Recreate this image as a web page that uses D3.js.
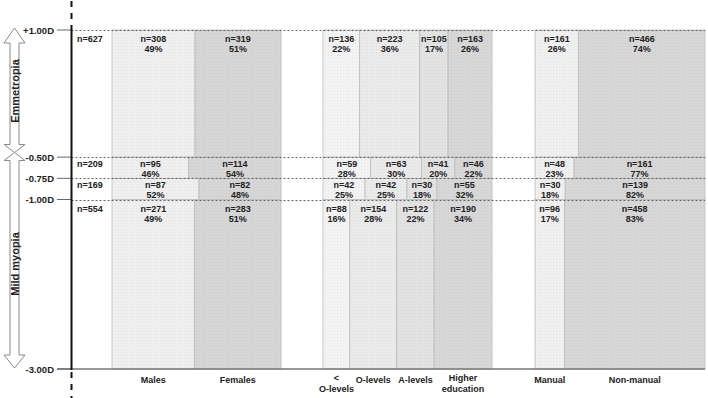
<!DOCTYPE html>
<html>
<head>
<meta charset="utf-8">
<script src="https://cdn.jsdelivr.net/npm/d3@7"></script>
<style>
  body { margin: 0; background: #fff; }
  text { font-family: "Liberation Sans", Arial, sans-serif; font-weight: bold; fill: #222; }
</style>
</head>
<body>
<div id="chart"></div>
<script>
// refraction bands (dioptres) and their tick labels
var refr = [1, -0.5, -0.75, -1, -3];
var refrLabels = ['+1.00D', '-0.50D', '-0.75D', '-1.00D', '-3.00D'];
var totalN = [627, 209, 169, 554];

// sex
var malesN = [308, 95, 87, 271],    malesPct = [49, 46, 52, 49];
var femalesN = [319, 114, 82, 283], femalesPct = [51, 54, 48, 51];

// education
var lessON = [136, 59, 42, 88],     lessOPct = [22, 28, 25, 16];
var oLevN = [223, 63, 42, 154],     oLevPct = [36, 30, 25, 28];
var aLevN = [105, 41, 30, 122],     aLevPct = [17, 20, 18, 22];
var higherN = [163, 46, 55, 190],   higherPct = [26, 22, 32, 34];

// occupation
var manualN = [161, 48, 30, 96],    manualPct = [26, 23, 18, 17];
var nonManN = [466, 161, 139, 458], nonManPct = [74, 77, 82, 83];

var width = 708, height = 398;
var svg = d3.select('#chart').append('svg')
  .attr('width', width).attr('height', height);

var axisX = 71.5, rightX = 705;
var y = d3.scaleLinear().domain([1, -3]).range([30, 369]);

// fills with a fine dotted texture
var fills = {
  males: '#efefef', females: '#d6d6d6',
  lessO: '#f3f3f3', oLev: '#eaeaea', aLev: '#e2e2e2', higher: '#d7d7d7',
  manual: '#f0f0f0', nonMan: '#d7d7d7'
};
var defs = svg.append('defs');
Object.keys(fills).forEach(function(k) {
  var p = defs.append('pattern').attr('id', 'pat-' + k)
    .attr('patternUnits', 'userSpaceOnUse').attr('width', 3).attr('height', 3);
  p.append('rect').attr('width', 3).attr('height', 3).attr('fill', fills[k]);
  p.append('rect').attr('x', 1).attr('y', 1).attr('width', 1).attr('height', 1)
    .attr('fill', d3.color(fills[k]).darker(0.15));
});

var groups = [
  {x0: 112, x1: 281, cats: [
    {key: 'males', label: ['Males'], n: malesN, pct: malesPct},
    {key: 'females', label: ['Females'], n: femalesN, pct: femalesPct}]},
  {x0: 323, x1: 492, cats: [
    {key: 'lessO', label: ['<', 'O-levels'], n: lessON, pct: lessOPct},
    {key: 'oLev', label: ['O-levels'], n: oLevN, pct: oLevPct},
    {key: 'aLev', label: ['A-levels'], n: aLevN, pct: aLevPct},
    {key: 'higher', label: ['Higher', 'education'], n: higherN, pct: higherPct}]},
  {x0: 535, x1: 705, cats: [
    {key: 'manual', label: ['Manual'], n: manualN, pct: manualPct},
    {key: 'nonMan', label: ['Non-manual'], n: nonManN, pct: nonManPct}]}
];

var cells = svg.append('g');
var labels = svg.append('g');

totalN.forEach(function(t, i) {
  var top = y(refr[i]), bot = y(refr[i + 1]);
  var pad = (bot - top) > 30 ? 12 : 9.5;

  labels.append('text')
    .attr('x', 77).attr('y', top + pad)
    .style('font-size', '9px')
    .text('n=' + t);

  groups.forEach(function(g) {
    var sum = d3.sum(g.cats, function(c) { return c.n[i]; });
    var x = d3.scaleLinear().domain([0, sum]).range([g.x0, g.x1]);
    var acc = 0;
    g.cats.forEach(function(c) {
      var a = x(acc), b = x(acc + c.n[i]);
      acc += c.n[i];
      cells.append('rect')
        .attr('x', a).attr('y', top)
        .attr('width', b - a).attr('height', bot - top)
        .attr('fill', 'url(#pat-' + c.key + ')')
        .attr('stroke', '#bcbcbc').attr('stroke-width', 0.8);
      var cx = (a + b) / 2;
      labels.append('text').attr('x', cx).attr('y', top + pad)
        .attr('text-anchor', 'middle').style('font-size', '9px')
        .text('n=' + c.n[i]);
      labels.append('text').attr('x', cx).attr('y', top + pad + 10)
        .attr('text-anchor', 'middle').style('font-size', '9px')
        .text(c.pct[i] + '%');
      // category labels under the bottom band
      if (i === totalN.length - 1) {
        var ly = c.label.length > 1 ? 381 : 383;
        c.label.forEach(function(s, j) {
          labels.append('text').attr('x', cx).attr('y', ly + j * 10.5)
            .attr('text-anchor', 'middle').style('font-size', '9px')
            .text(s);
        });
      }
    });
  });
});

// dotted band boundaries
svg.append('g').selectAll('line')
  .data(refr.slice(0, 4))
  .enter().append('line')
    .attr('x1', axisX).attr('x2', rightX)
    .attr('y1', function(d) { return Math.round(y(d)) + 0.5; })
    .attr('y2', function(d) { return Math.round(y(d)) + 0.5; })
    .attr('stroke', '#555').attr('stroke-width', 0.9)
    .attr('stroke-dasharray', '2,2');

// bottom axis line
svg.append('line')
  .attr('x1', 57).attr('x2', rightX)
  .attr('y1', y(-3)).attr('y2', y(-3))
  .attr('stroke', '#777').attr('stroke-width', 1.5);

// ticks and labels on the left
var ticks = svg.append('g');
refr.forEach(function(d, i) {
  ticks.append('line')
    .attr('x1', 57).attr('x2', axisX)
    .attr('y1', y(d)).attr('y2', y(d))
    .attr('stroke', '#666').attr('stroke-width', 1);
  ticks.append('text')
    .attr('x', 54).attr('y', y(d) + 3.5)
    .attr('text-anchor', 'end').style('font-size', '9.5px')
    .text(refrLabels[i]);
});

// vertical axis with dashed extensions
svg.append('line')
  .attr('x1', axisX).attr('x2', axisX).attr('y1', 28).attr('y2', 370)
  .attr('stroke', '#111').attr('stroke-width', 2);
[[1, 28], [372, 398]].forEach(function(r) {
  svg.append('line')
    .attr('x1', axisX).attr('x2', axisX).attr('y1', r[0]).attr('y2', r[1])
    .attr('stroke', '#111').attr('stroke-width', 2)
    .attr('stroke-dasharray', '6,6');
});

// hollow double-headed arrows
function arrow(yTop, yBot, hTop, hBot, text, ty) {
  var cx = 14.5, hw = 10.5, sw = 4.5;
  var pts = [
    [cx, yTop], [cx + hw, yTop + hTop], [cx + sw, yTop + hTop],
    [cx + sw, yBot - hBot], [cx + hw, yBot - hBot], [cx, yBot],
    [cx - hw, yBot - hBot], [cx - sw, yBot - hBot],
    [cx - sw, yTop + hTop], [cx - hw, yTop + hTop]
  ];
  svg.append('path')
    .attr('d', d3.line()(pts) + 'Z')
    .attr('fill', 'white').attr('stroke', '#8a8a8a').attr('stroke-width', 1);
  svg.append('text')
    .attr('transform', 'translate(' + (cx + 4) + ',' + ty + ') rotate(-90)')
    .attr('text-anchor', 'middle').style('font-size', '11px')
    .text(text);
}
arrow(28, 152.5, 15, 8, 'Emmetropia', 91);
arrow(152.5, 368, 8, 13, 'Mild myopia', 264);
</script>
</body>
</html>
